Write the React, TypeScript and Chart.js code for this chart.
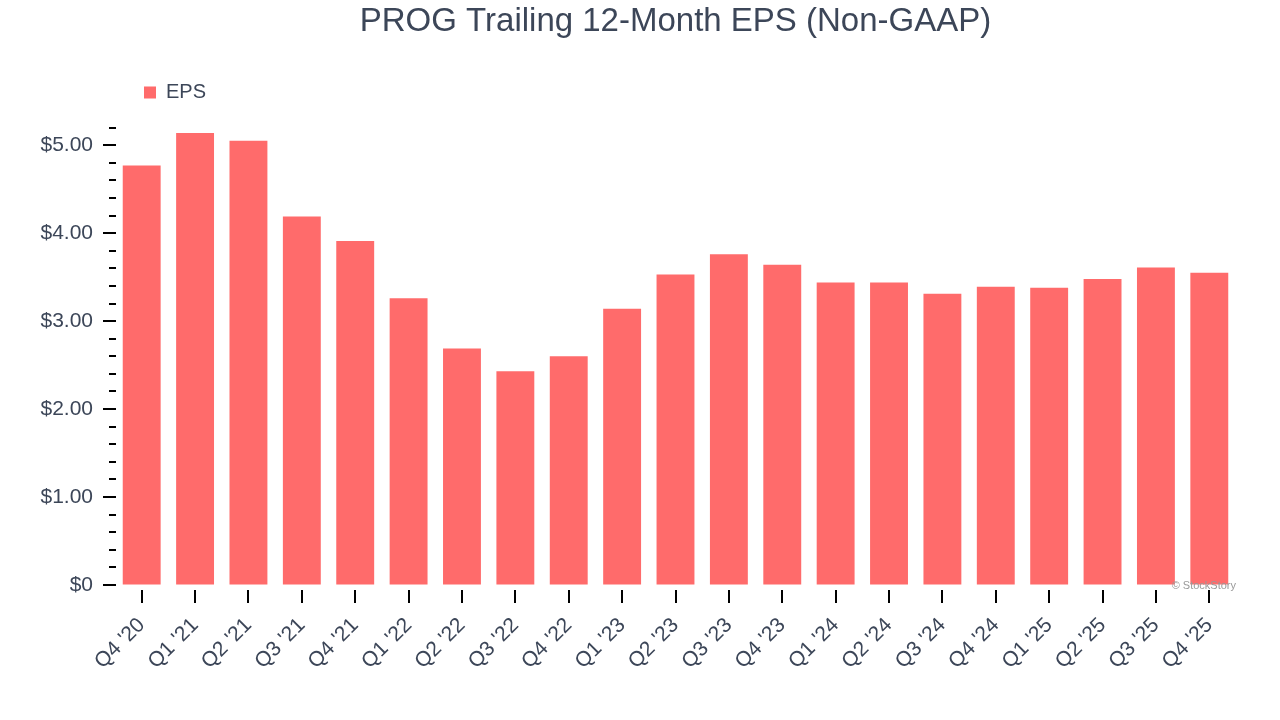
import { useEffect, useRef } from "react";
import { Chart, registerables } from "chart.js";

Chart.register(...registerables);

const quarters = [
  "Q4 '20", "Q1 '21", "Q2 '21", "Q3 '21", "Q4 '21", "Q1 '22", "Q2 '22",
  "Q3 '22", "Q4 '22", "Q1 '23", "Q2 '23", "Q3 '23", "Q4 '23", "Q1 '24",
  "Q2 '24", "Q3 '24", "Q4 '24", "Q1 '25", "Q2 '25", "Q3 '25", "Q4 '25",
];
const eps = [
  4.77, 5.14, 5.05, 4.19, 3.91, 3.26, 2.69, 2.43, 2.60, 3.14, 3.53,
  3.76, 3.64, 3.44, 3.44, 3.31, 3.39, 3.38, 3.48, 3.61, 3.55,
];

const FONT = "'Liberation Sans', Arial, Helvetica, sans-serif";
const TEXT = "#3c4658";
const BAR = "#ff6b6b";

// draws the axis tick marks (long majors, short minors) and the watermark
const tickMarks = {
  id: "tickMarks",
  afterDraw(chart: Chart) {
    const { ctx, chartArea, scales } = chart;
    const y = scales.y;
    const x = scales.x;
    ctx.save();
    ctx.strokeStyle = "#000";
    ctx.lineWidth = 2;
    y.ticks.forEach((t) => {
      const py = Math.round(y.getPixelForValue(t.value));
      const major = Math.abs(t.value - Math.round(t.value)) < 1e-6;
      ctx.beginPath();
      ctx.moveTo(chartArea.left + 1 - (major ? 13 : 7), py);
      ctx.lineTo(chartArea.left + 1, py);
      ctx.stroke();
    });
    x.ticks.forEach((_t, i) => {
      const px = Math.round(x.getPixelForTick(i));
      ctx.beginPath();
      ctx.moveTo(px, chartArea.bottom + 5);
      ctx.lineTo(px, chartArea.bottom + 18);
      ctx.stroke();
    });
    ctx.fillStyle = "#9a9a9a";
    ctx.font = `11px ${FONT}`;
    ctx.textAlign = "right";
    ctx.textBaseline = "middle";
    ctx.fillText("© StockStory", chartArea.right, chartArea.bottom + 1);
    ctx.restore();
  },
};

export default function App() {
  const chartRef = useRef<HTMLCanvasElement>(null);
  const chartInstance = useRef<Chart | null>(null);

  useEffect(() => {
    document.body.style.margin = "0";
    if (!chartRef.current) return;
    if (chartInstance.current) chartInstance.current.destroy();
    const ctx = chartRef.current.getContext("2d");
    if (!ctx) return;

    chartInstance.current = new Chart(ctx, {
      type: "bar",
      data: {
        labels: quarters,
        datasets: [
          {
            label: "EPS",
            data: eps,
            backgroundColor: BAR,
            borderWidth: 0,
            barPercentage: 0.71,
            categoryPercentage: 1,
          },
        ],
      },
      options: {
        animation: false,
        responsive: true,
        maintainAspectRatio: false,
        layout: { padding: { left: 0, right: 44, top: 0, bottom: 0 } },
        plugins: {
          title: {
            display: true,
            fullSize: false,
            text: "PROG Trailing 12-Month EPS (Non-GAAP)",
            color: TEXT,
            font: { family: FONT, size: 33, weight: "normal" },
            padding: { top: 2, bottom: 12 },
          },
          legend: {
            display: true,
            position: "top",
            align: "start",
            fullSize: false,
            labels: {
              color: TEXT,
              font: { family: FONT, size: 20 },
              boxWidth: 12,
              boxHeight: 12,
              padding: 29,
            },
          },
          tooltip: { enabled: false },
        },
        scales: {
          x: {
            grid: { display: true, drawOnChartArea: false, tickLength: 18, tickColor: "transparent" },
            border: { display: false },
            ticks: {
              color: TEXT,
              font: { family: FONT, size: 21 },
              maxRotation: 45,
              minRotation: 45,
              padding: 10,
              autoSkip: false,
            },
            afterFit: (s: any) => {
              s.height = 135;
            },
          },
          // empty spacer between the legend and the plot area
          spacer: {
            type: "category",
            position: "top",
            display: true,
            grid: { display: false },
            border: { display: false },
            ticks: { display: false },
            afterFit: (s: any) => {
              s.height = 15;
            },
          },
          y: {
            min: 0,
            max: 5.2,
            grid: { display: true, drawOnChartArea: false, tickLength: 13, tickColor: "transparent" },
            border: { display: false },
            ticks: {
              stepSize: 0.2,
              autoSkip: false,
              color: TEXT,
              font: { family: FONT, size: 21 },
              padding: 9,
              callback: (v: any) => {
                const n = Number(v);
                if (Math.abs(n - Math.round(n)) > 1e-6) return "";
                return n === 0 ? "$0" : "$" + n.toFixed(2);
              },
            },
            afterFit: (s: any) => {
              s.width = 115;
            },
          },
        },
      },
      plugins: [tickMarks],
    });

    return () => {
      if (chartInstance.current) {
        chartInstance.current.destroy();
        chartInstance.current = null;
      }
    };
  }, []);

  return (
    <div style={{ position: "relative", width: 1280, height: 720, background: "#fff" }}>
      <canvas ref={chartRef} />
    </div>
  );
}
